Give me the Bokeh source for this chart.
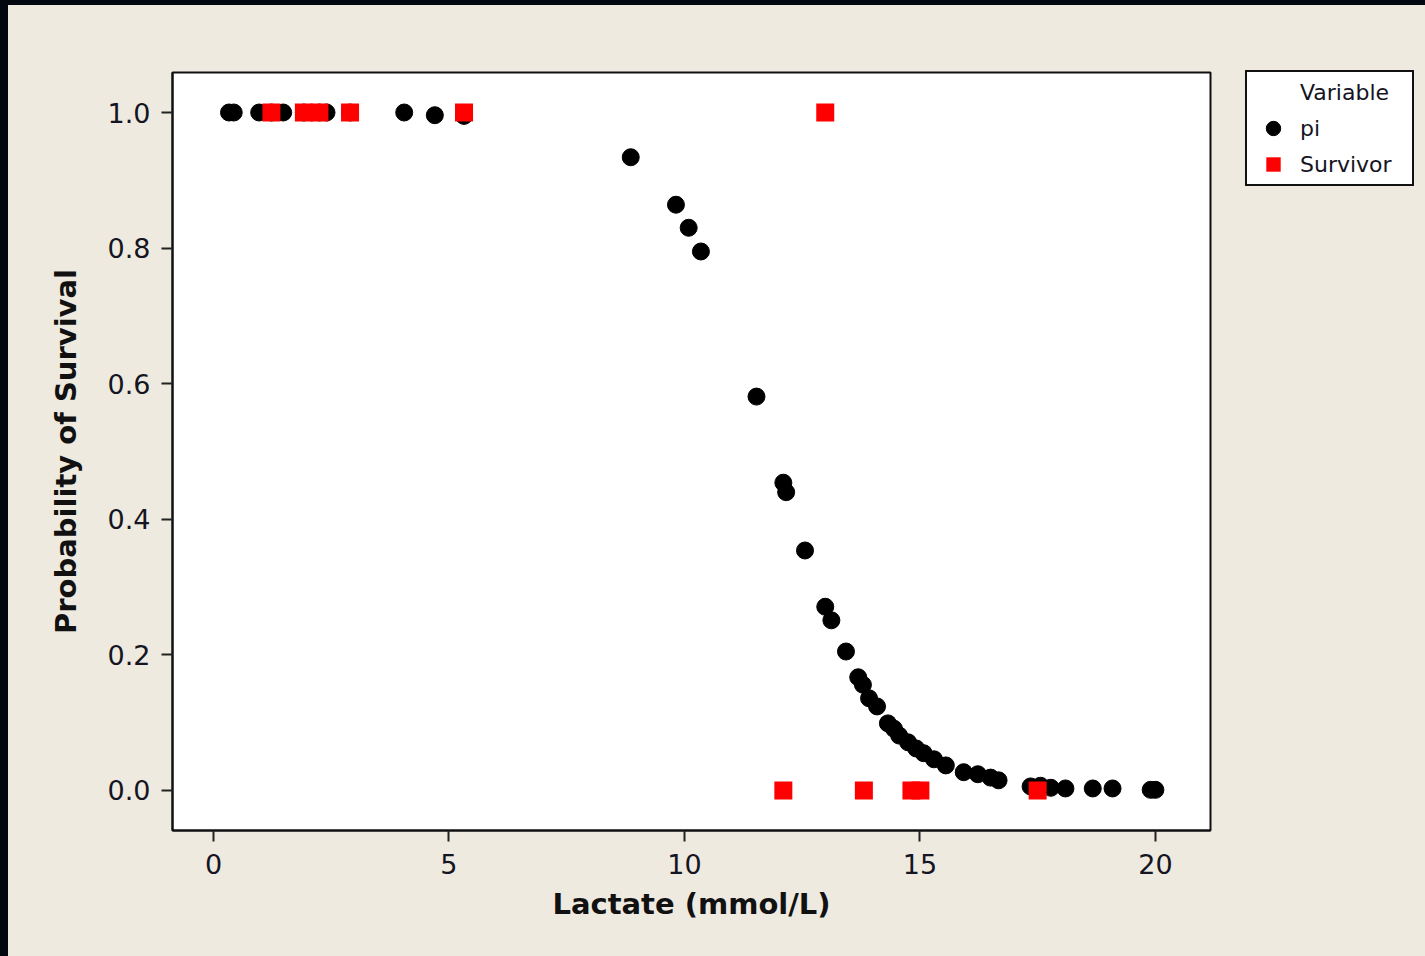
from bokeh.plotting import figure
from bokeh.models import Legend, LegendItem, FixedTicker, NumeralTickFormatter, Range1d
from bokeh.embed import file_html
from bokeh.resources import INLINE

# ---- data ----
pi_lactate = [0.33, 0.43, 0.97, 1.23, 1.48, 1.92, 2.25, 2.40, 2.90, 4.05, 4.70, 5.32,
              8.86, 9.82, 10.09, 10.35, 11.53, 12.10, 12.16, 12.56, 12.99, 13.12,
              13.43, 13.69, 13.79, 13.92, 14.09, 14.32, 14.45, 14.56, 14.75, 14.92,
              15.08, 15.30, 15.55, 15.93, 16.23, 16.50, 16.67, 17.35, 17.56, 17.78,
              18.09, 18.67, 19.09, 19.90, 20.00]
pi_prob = [1.0, 1.0, 1.0, 1.0, 1.0, 1.0, 1.0, 1.0, 1.0, 1.0, 0.996, 0.995,
           0.934, 0.864, 0.830, 0.795, 0.581, 0.454, 0.440, 0.354, 0.271, 0.251,
           0.205, 0.167, 0.156, 0.136, 0.124, 0.099, 0.091, 0.081, 0.071, 0.062,
           0.055, 0.046, 0.037, 0.027, 0.024, 0.019, 0.015, 0.006, 0.007, 0.004,
           0.003, 0.003, 0.003, 0.001, 0.001]

surv_lactate = [1.23, 1.92, 2.25, 2.90, 5.32, 12.99, 12.10, 13.81, 14.82, 15.01, 17.50]
surv_value = [1, 1, 1, 1, 1, 1, 0, 0, 0, 0, 0]

x_ticks = [0, 5, 10, 15, 20]
y_ticks = [0.0, 0.2, 0.4, 0.6, 0.8, 1.0]

BEIGE = "#EEEAE0"
DARK = "#03070f"
TEXT = "#141422"

p = figure(frame_width=1038, frame_height=758, output_backend="svg", toolbar_location=None,
           x_range=Range1d(-0.87, 21.17), y_range=Range1d(-0.059, 1.059),
           min_border_left=164, min_border_right=0, min_border_top=67,
           min_border_bottom=126)

p.border_fill_color = BEIGE
p.background_fill_color = "white"
p.outline_line_color = "#111111"
p.outline_line_width = 2
p.outline_line_alpha = 1
p.xgrid.grid_line_color = None
p.ygrid.grid_line_color = None

for ax in (p.xaxis[0], p.yaxis[0]):
    ax.axis_line_color = "#111111"
    ax.axis_line_width = 2
    ax.major_tick_in = 0
    ax.major_tick_out = 11
    ax.major_tick_line_width = 2
    ax.major_tick_line_color = "#222222"
    ax.minor_tick_line_color = None
    ax.major_label_text_font = "DejaVu Sans"
    ax.major_label_text_font_size = "27px"
    ax.major_label_text_color = TEXT
    ax.axis_label_text_font = "DejaVu Sans"
    ax.axis_label_text_font_style = "bold"
    ax.axis_label_text_font_size = "29px"
    ax.axis_label_text_color = "#111111"

p.xaxis[0].ticker = FixedTicker(ticks=x_ticks)
p.yaxis[0].ticker = FixedTicker(ticks=y_ticks)
p.yaxis[0].formatter = NumeralTickFormatter(format="0.0")
p.xaxis[0].axis_label = "Lactate (mmol/L)"
p.yaxis[0].axis_label = "Probability of Survival"
p.xaxis[0].major_label_standoff = 12
p.yaxis[0].major_label_standoff = 11
p.xaxis[0].axis_label_standoff = 10
p.yaxis[0].axis_label_standoff = 22

dummy = p.scatter(x=[-100], y=[-100], size=1, fill_alpha=0, line_alpha=0)
r_pi = p.scatter(x=pi_lactate, y=pi_prob, marker="circle", size=17,
                 fill_color="black", line_color="black")
r_sv = p.scatter(x=surv_lactate, y=surv_value, marker="square", size=18,
                 fill_color="#FF0000", line_color=None)

legend = Legend(items=[LegendItem(label="Variable", renderers=[dummy]),
                       LegendItem(label="pi", renderers=[r_pi]),
                       LegendItem(label="Survivor", renderers=[r_sv])],
                location=(35, 644))
legend.padding = 2
legend.spacing = 0
legend.glyph_width = 48
legend.glyph_height = 36
legend.label_height = 36
legend.label_width = 110
legend.label_standoff = 3
legend.label_text_font = "DejaVu Sans"
legend.label_text_font_size = "22px"
legend.label_text_color = TEXT
legend.border_line_color = "#111111"
legend.border_line_width = 2
legend.border_line_alpha = 1
legend.background_fill_color = "white"
legend.background_fill_alpha = 1
legend.margin = 0
p.add_layout(legend, "right")

html = file_html(p, INLINE)
html = html.replace("</head>",
                    "<style>html,body{background:" + BEIGE + ";overflow:hidden;}"
                    "body{margin:0 !important;padding:0 !important;"
                    "border-left:8px solid " + DARK + ";border-top:5px solid " + DARK + ";}"
                    "</style></head>", 1)
open("out.html", "w").write(html)
